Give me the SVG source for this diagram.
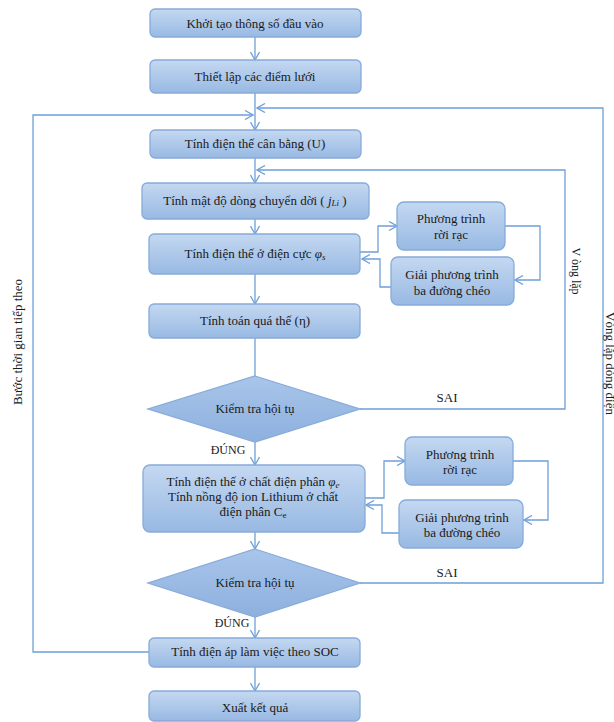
<svg xmlns="http://www.w3.org/2000/svg" width="614" height="722" viewBox="0 0 614 722" font-family="'Liberation Serif', 'Times New Roman', serif">
<defs>
<linearGradient id="g" x1="0" y1="0" x2="0" y2="1">
<stop offset="0" stop-color="#c4d8f1"/>
<stop offset="1" stop-color="#98b9e3"/>
</linearGradient>
<linearGradient id="gd" x1="0" y1="0" x2="0" y2="1">
<stop offset="0" stop-color="#a9c5ea"/>
<stop offset="1" stop-color="#8db0de"/>
</linearGradient>
<marker id="a" viewBox="0 0 10 10" refX="9" refY="5" markerWidth="10" markerHeight="10" markerUnits="userSpaceOnUse" orient="auto">
<path d="M1,0.5 L9,5 L1,9.5" fill="none" stroke="#6f9fd9" stroke-width="1.3"/>
</marker>
<style>
.b{fill:url(#g);stroke:#86abd9;stroke-width:1.3}
.d{fill:url(#gd);stroke:#86abd9;stroke-width:1.3}
.c{fill:none;stroke:#6f9fd9;stroke-width:1.3}
.c2{fill:none;stroke:#6f9fd9;stroke-width:1.3;marker-end:url(#a)}
.t{font-family:'Liberation Serif','Times New Roman',serif;font-size:13px;fill:#1a1a1a;text-anchor:middle}
.i{font-style:italic}
</style>
</defs>
<rect width="614" height="722" fill="#ffffff"/>
<g id="connectors">
<path class="c2" d="M255,37 V60"/>
<path class="c2" d="M255,93 V130"/>
<path class="c2" d="M149,652 H33 V115 H253"/>
<path class="c2" d="M360,583 H603 V108 H257"/>
<path class="c2" d="M255,158 V183"/>
<path class="c2" d="M360,409 H565 V170 H257"/>
<path class="c2" d="M255,219 V234"/>
<path class="c2" d="M360,252 H378 V226 H397"/>
<path class="c2" d="M505,226 H540 V280 H515"/>
<path class="c2" d="M391,287 H380 V259 H362"/>
<path class="c2" d="M255,274 V304"/>
<path class="c" d="M255,338 V376"/>
<path class="c2" d="M255,442 V465"/>
<path class="c2" d="M365,498 H384 V461 H405"/>
<path class="c2" d="M513,461 H548 V520 H524"/>
<path class="c2" d="M399,533 H382 V505 H366"/>
<path class="c2" d="M255,532 V549"/>
<path class="c2" d="M255,617 V638"/>
<path class="c2" d="M255,667 V691"/>
<text class="t" x="447" y="402">SAI</text>
<text class="t" x="228" y="454" style="font-size:12px">ĐÚNG</text>
<text class="t" x="447" y="577">SAI</text>
<text class="t" x="232" y="627" style="font-size:12px">ĐÚNG</text>
<text class="t" transform="translate(22,342) rotate(-90)">Bước thời gian tiếp theo</text>
<text class="t" transform="translate(572,271) rotate(90)" style="font-size:12px">V òng lặp</text>
<text class="t" transform="translate(606,312) rotate(90)" style="text-anchor:start">Vòng lặp dòng điện</text>
</g>
<g id="n1"><rect class="b" x="150" y="9" width="211" height="28" rx="5"/><text class="t" x="255" y="28">Khởi tạo thông số đầu vào</text></g>
<g id="n2"><rect class="b" x="150" y="60" width="211" height="33" rx="5"/><text class="t" x="255" y="81">Thiết lập các điểm lưới</text></g>
<g id="n3"><rect class="b" x="150" y="130" width="211" height="28" rx="5"/><text class="t" x="255" y="148">Tính điện thế cân bằng (U)</text></g>
<g id="n4"><rect class="b" x="142" y="183" width="227" height="36" rx="5"/><text class="t" x="255" y="205">Tính mật độ dòng chuyển dời ( <tspan class="i">j</tspan><tspan class="i" style="font-size:9px" dy="1">Li</tspan><tspan dy="-1"> )</tspan></text></g>
<g id="n5"><rect class="b" x="149" y="234" width="211" height="40" rx="5"/><text class="t" x="255" y="258">Tính điện thế ở điện cực <tspan class="i">φ</tspan><tspan class="i" style="font-size:9px" dy="2">s</tspan></text></g>
<g id="n6"><rect class="b" x="397" y="202" width="108" height="48" rx="7"/><text class="t" x="451" y="223">Phương trình</text><text class="t" x="451" y="239">rời rạc</text></g>
<g id="n7"><rect class="b" x="391" y="257" width="123" height="48" rx="7"/><text class="t" x="452" y="279">Giải phương trình</text><text class="t" x="452" y="295">ba đường chéo</text></g>
<g id="n8"><rect class="b" x="149" y="304" width="211" height="34" rx="5"/><text class="t" x="255" y="325">Tính toán quá thế (η)</text></g>
<g id="n9"><polygon class="d" points="255,376 360,409 255,442 148,409"/><text class="t" x="255" y="413">Kiểm tra hội tụ</text></g>
<g id="n10"><rect class="b" x="143" y="465" width="222" height="67" rx="7"/><text class="t" x="253" y="486">Tính điện thế ở chất điện phân <tspan class="i">φ</tspan><tspan class="i" style="font-size:9px" dy="2">e</tspan></text><text class="t" x="253" y="501">Tính nồng độ ion Lithium ở chất</text><text class="t" x="253" y="516">điện phân C<tspan style="font-size:9px" dy="2">e</tspan></text></g>
<g id="n11"><rect class="b" x="405" y="437" width="108" height="48" rx="7"/><text class="t" x="460" y="459">Phương trình</text><text class="t" x="460" y="474">rời rạc</text></g>
<g id="n12"><rect class="b" x="399" y="500" width="124" height="48" rx="7"/><text class="t" x="462" y="522">Giải phương trình</text><text class="t" x="462" y="537">ba đường chéo</text></g>
<g id="n13"><polygon class="d" points="255,549 360,583 255,617 148,583"/><text class="t" x="255" y="587">Kiểm tra hội tụ</text></g>
<g id="n14"><rect class="b" x="149" y="638" width="211" height="29" rx="5"/><text class="t" x="255" y="656">Tính điện áp làm việc theo SOC</text></g>
<g id="n15"><rect class="b" x="149" y="691" width="211" height="30" rx="5"/><text class="t" x="255" y="712">Xuất kết quả</text></g>
</svg>
